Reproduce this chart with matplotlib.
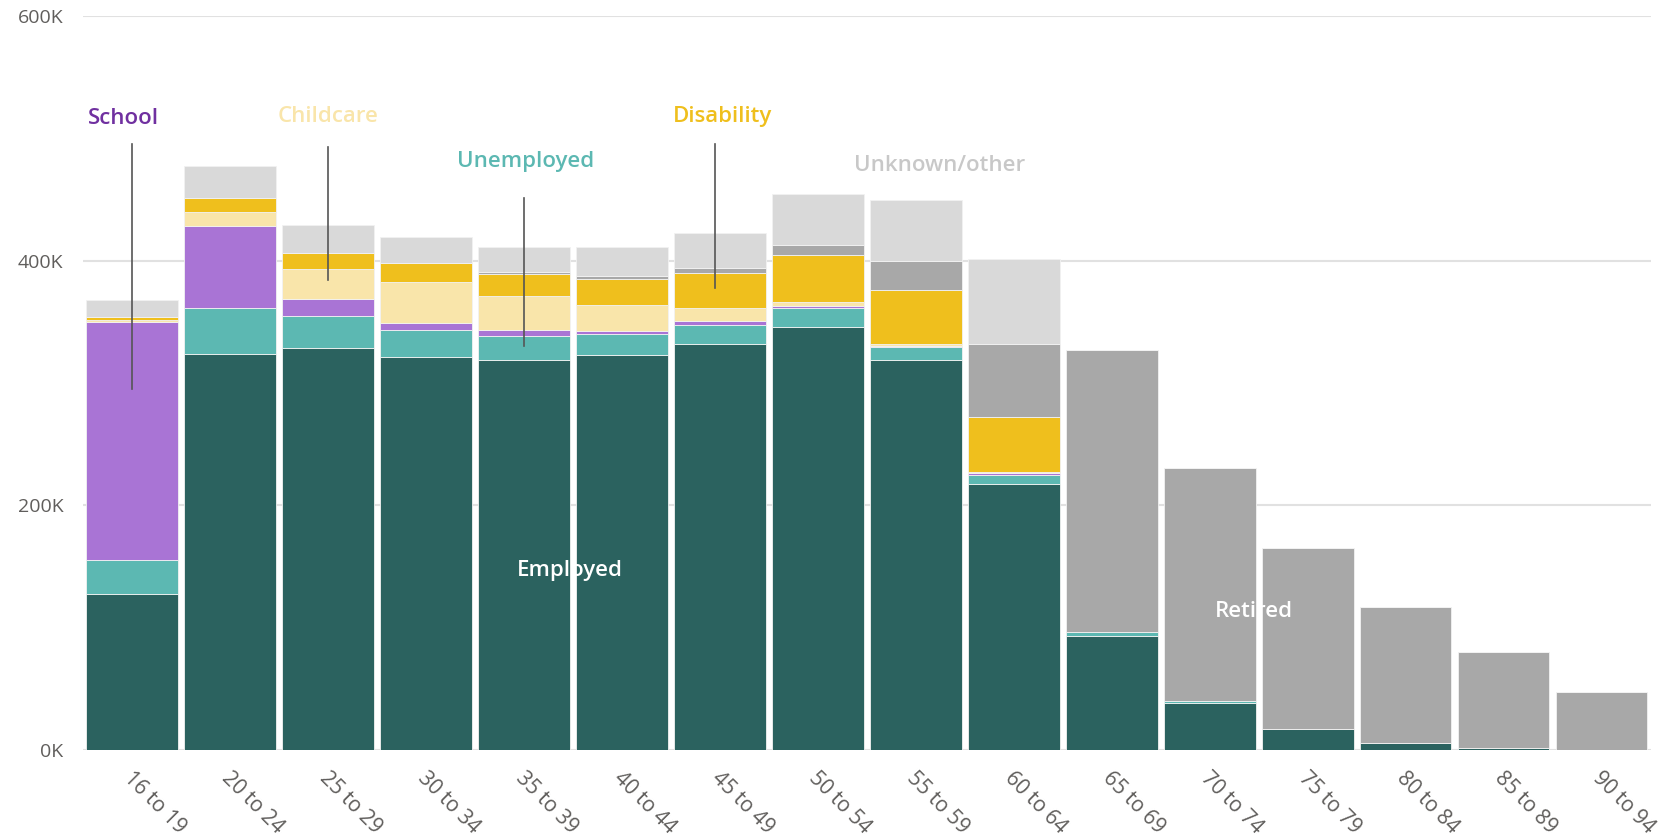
import matplotlib
matplotlib.use("Agg")
import matplotlib.pyplot as plt
from matplotlib.transforms import ScaledTranslation
import numpy as np

plt.rcParams['font.family'] = ['Open Sans', 'DejaVu Sans']

# values in thousands of people
ages = ["16 to 19", "20 to 24", "25 to 29", "30 to 34", "35 to 39", "40 to 44",
        "45 to 49", "50 to 54", "55 to 59", "60 to 64", "65 to 69", "70 to 74",
        "75 to 79", "80 to 84", "85 to 89", "90 to 94"]
employed = [127.5, 324, 329, 321.5, 319, 323, 332, 346, 318.4, 217.4, 93.2, 38.4, 16.9, 6.0, 1.4, 0]
unemployed = [28, 37.5, 26, 21.5, 19.7, 16.7, 15.6, 15.3, 11.2, 7.4, 3.5, 1.4, 0.3, 0, 0, 0]
school = [194.4, 67, 14, 6.3, 4.9, 3, 3.2, 1.3, 1, 1.4, 0, 0, 0, 0, 0, 0]
childcare = [1.6, 11.5, 24, 33, 27.8, 20.7, 10.4, 3.3, 1.4, 1.0, 0, 0, 0, 0, 0, 0]
disability = [2.7, 11, 13.5, 15.5, 17.4, 21.2, 28.8, 38.9, 44.3, 45.2, 0, 0, 0, 0, 0, 0]
retired = [0, 0.5, 0, 0.5, 1.7, 2.7, 3.8, 7.6, 23.1, 59.6, 230.3, 190.5, 148.2, 110.6, 78.5, 47.7]
unknown = [13.6, 26, 23, 21, 21, 23.7, 29, 41.9, 50.4, 69, 0, 0, 0, 0, 0, 0]

series = [
    ("Employed", employed, "#2b625f"),
    ("Unemployed", unemployed, "#5cb8b2"),
    ("School", school, "#a974d5"),
    ("Childcare", childcare, "#f9e5aa"),
    ("Disability", disability, "#efbf1d"),
    ("Retired", retired, "#a8a8a8"),
    ("Unknown/other", unknown, "#d9d9d9"),
]

fig = plt.figure(figsize=(16.73, 8.39), dpi=100)
ax = fig.add_axes([0.0496, 0.106, 0.937, 0.875])

x = np.arange(len(ages))
bottom = np.zeros(len(ages))
for name, vals, color in series:
    vals = np.array(vals, dtype=float)
    ax.bar(x, vals, bottom=bottom, width=0.936, color=color,
           edgecolor="#f2f2f2", linewidth=0.6, zorder=2)
    bottom += vals

ax.set_xlim(-0.5, 15.5)
ax.set_ylim(0, 600)
ax.set_yticks([0, 200, 400, 600])
ax.set_yticklabels([f"{v}K" for v in [0, 200, 400, 600]])
ax.yaxis.grid(True, color="#e1e1e1", linewidth=1.5, zorder=0)
ax.set_axisbelow(True)
for s in ax.spines.values():
    s.set_visible(False)
ax.tick_params(axis="both", length=0, labelsize=14, labelcolor="#605e5c")
ax.tick_params(axis="y", pad=14)
ax.set_xticks(x)
ax.set_xticklabels(ages, rotation=-45, ha="left", va="top",
                   rotation_mode="anchor", fontsize=15)
ax.tick_params(axis="x", pad=13)
# rotated labels start near the bar centre
shift = ScaledTranslation(2 / 100, 0, fig.dpi_scale_trans)
for lab in ax.get_xticklabels():
    lab.set_transform(lab.get_transform() + shift)

# callout lines
callouts = [(0, 295, 495), (2, 384, 493), (4, 330.5, 451.5), (5.95, 378, 495)]
for cx, y0, y1 in callouts:
    ax.plot([cx, cx], [y0, y1], color="#555555", linewidth=1.2, zorder=3)

labels = [
    ("School", -0.09, 511.7, "#7030a0"),
    ("Childcare", 2.0, 513.3, "#f9e5aa"),
    ("Unemployed", 4.02, 476.3, "#5cb8b2"),
    ("Disability", 6.03, 513.6, "#efbf1d"),
    ("Unknown/other", 8.24, 473.6, "#c8c8c8"),
    ("Employed", 4.47, 142.5, "white"),
    ("Retired", 11.45, 109, "white"),
]
for txt, lx, ly, col in labels:
    ax.text(lx, ly, txt, color=col, fontsize=16, fontweight="semibold",
            ha="center", va="baseline", zorder=4)

fig.savefig("out.png", dpi=100)
